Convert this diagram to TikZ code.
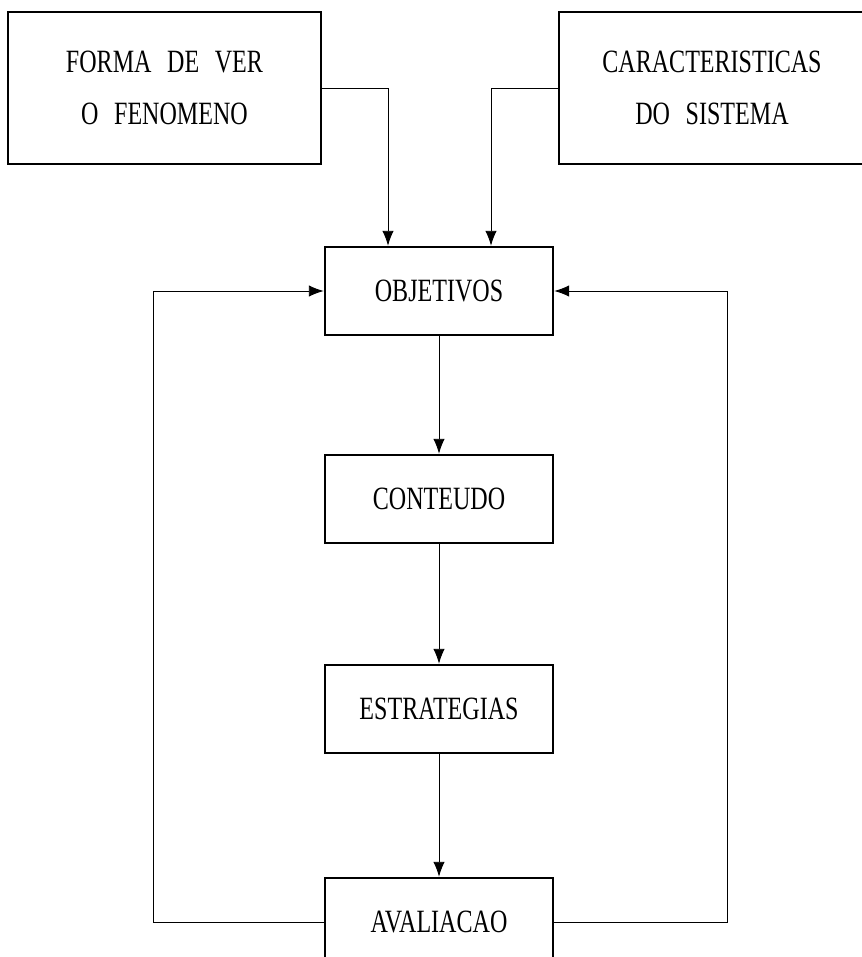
\documentclass[tikz,border=0pt]{standalone}
\usepackage{fontspec}
\setmainfont{Liberation Serif}[FakeStretch=0.74,WordSpace=2.6]
\usepackage{tikz}
\usetikzlibrary{arrows.meta}

\begin{document}
\begin{tikzpicture}[
  caixa/.style={draw,line width=1.4pt,inner sep=0pt,align=center,
    font=\fontsize{18.5}{29.5}\selectfont},
  topo/.style={caixa,minimum height=3.04cm},
  etapa/.style={caixa,minimum width=4.56cm,minimum height=1.76cm},
  liga/.style={line width=0.55pt,>={Latex[length=3mm,width=2.3mm]}}]
\clip (0,0) rectangle (17.24,-19.14);

\node[topo,minimum width=6.26cm] (forma) at (3.29,-1.76) {FORMA DE VER\\O FENOMENO};
\node[topo,minimum width=6.12cm] (carac) at (14.24,-1.76) {CARACTERISTICAS\\DO SISTEMA};

\node[etapa] (obj) at (8.78,-5.82) {OBJETIVOS};
\node[etapa] (cont) at (8.78,-9.98) {CONTEUDO};
\node[etapa] (estr) at (8.78,-14.18) {ESTRATEGIAS};
\node[etapa] (aval) at (8.78,-18.44) {AVALIACAO};

\coordinate (fbl) at (3.06,0);
\coordinate (fbr) at (14.54,0);

\draw[liga,->] (forma.east) -| ([xshift=-1.02cm]obj.north);
\draw[liga,->] (carac.west) -| ([xshift=1.04cm]obj.north);

\path[liga,->] (obj) edge (cont);
\path[liga,->] (cont) edge (estr);
\path[liga,->] (estr) edge (aval);

\draw[liga,->] (aval.west) -- (aval.west -| fbl) -- (obj.west -| fbl) -- (obj.west);
\draw[liga,->] (aval.east) -- (aval.east -| fbr) -- (obj.east -| fbr) -- (obj.east);

\end{tikzpicture}
\end{document}
